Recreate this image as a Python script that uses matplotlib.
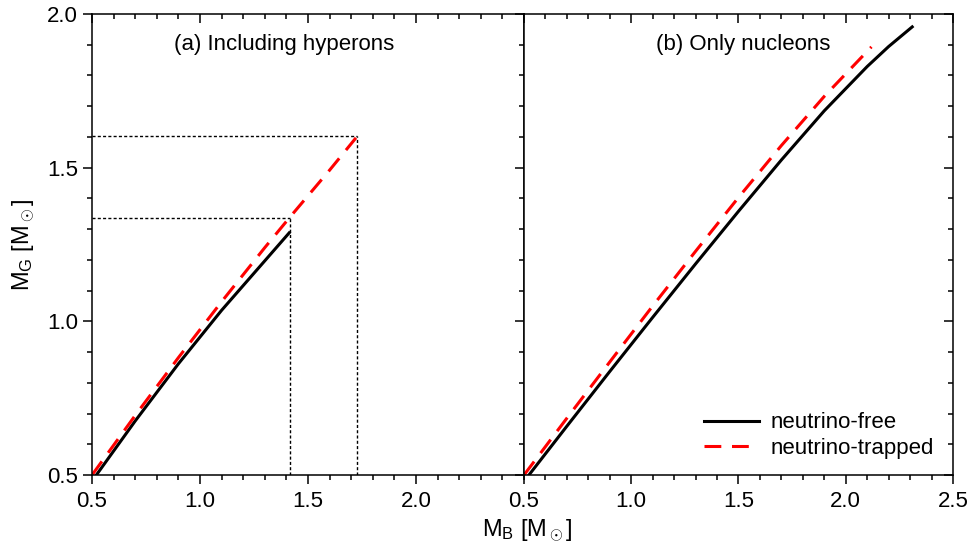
import numpy as np
import matplotlib
matplotlib.use("Agg")
import matplotlib.pyplot as plt
from matplotlib.ticker import MultipleLocator

plt.rcParams['font.family'] = ['Liberation Sans', 'DejaVu Sans']
plt.rcParams['mathtext.fontset'] = 'custom'
plt.rcParams['mathtext.rm'] = 'Liberation Sans'
plt.rcParams['mathtext.it'] = 'Liberation Sans:italic'

# (a) including hyperons
a_free_mb = [0.520, 0.70, 0.90, 1.10, 1.30, 1.413]
a_free_mg = [0.500, 0.676, 0.862, 1.036, 1.197, 1.288]
a_trap_mb = [0.500, 0.70, 0.90, 1.10, 1.30, 1.415, 1.60, 1.722]
a_trap_mg = [0.500, 0.694, 0.882, 1.064, 1.240, 1.338, 1.492, 1.597]

# maximum-mass guide lines in panel (a)
guide_mb = [1.415, 1.727]
guide_mg = [1.335, 1.603]

# (b) only nucleons
b_free_mb = [0.523, 0.70, 0.90, 1.10, 1.30, 1.50, 1.70, 1.90, 2.10, 2.20, 2.31]
b_free_mg = [0.500, 0.659, 0.837, 1.013, 1.187, 1.358, 1.525, 1.685, 1.829, 1.894, 1.958]
b_trap_mb = [0.500, 0.70, 0.90, 1.10, 1.30, 1.50, 1.70, 1.90, 2.12]
b_trap_mg = [0.500, 0.685, 0.868, 1.050, 1.228, 1.403, 1.572, 1.732, 1.893]

panel_titles = ["(a) Including hyperons", "(b) Only nucleons"]
legend_labels = ["neutrino-free", "neutrino-trapped"]

fig = plt.figure(figsize=(9.74, 5.48), dpi=100)
ax1 = fig.add_axes([0.0945, 0.1332, 0.4435, 0.8413])
ax2 = fig.add_axes([0.538, 0.1332, 0.4404, 0.8413])

dash = (0, (5.5, 3.5))
lw = 2.2
dot = (0, (2.2, 1.6))

ax1.plot(a_free_mb, a_free_mg, color='black', lw=lw)
ax1.plot(a_trap_mb, a_trap_mg, color='red', lw=lw, linestyle=dash)
for gx, gy in zip(guide_mb, guide_mg):
    ax1.plot([0.5, gx], [gy, gy], color='black', lw=1.0, linestyle=dot)
    ax1.plot([gx, gx], [0.5, gy], color='black', lw=1.0, linestyle=dot)

ax2.plot(b_free_mb, b_free_mg, color='black', lw=lw, label=legend_labels[0])
ax2.plot(b_trap_mb, b_trap_mg, color='red', lw=lw, linestyle=dash, label=legend_labels[1])

for ax in (ax1, ax2):
    ax.set_xlim(0.5, 2.5)
    ax.set_ylim(0.5, 2.0)
    ax.xaxis.set_minor_locator(MultipleLocator(0.1))
    ax.yaxis.set_major_locator(MultipleLocator(0.5))
    ax.yaxis.set_minor_locator(MultipleLocator(0.1))
    for sp in ax.spines.values():
        sp.set_linewidth(1.1)
    ax.tick_params(which='both', labelsize=16, width=1.1)
    ax.tick_params(which='major', length=6.5)
    ax.tick_params(which='minor', length=3.5)
    ax.tick_params(axis='x', which='both', bottom=True, direction='out', pad=5)
    ax.tick_params(axis='y', which='both', left=True, direction='out', pad=3.5)

ax1.set_xticks([0.5, 1.0, 1.5, 2.0])
ax1.tick_params(which='both', top=True, right=False)
ax2.set_xticks([0.5, 1.0, 1.5, 2.0, 2.5])
ax2.tick_params(which='both', top=True, right=True, labelleft=False)

# top and right ticks point inward
for ax in (ax1, ax2):
    for t in ax.xaxis.get_major_ticks() + ax.xaxis.get_minor_ticks():
        t.tick2line.set_marker(3)
    for t in ax.yaxis.get_major_ticks() + ax.yaxis.get_minor_ticks():
        t.tick2line.set_marker(0)
ax1.set_xticklabels(['0.5', '1.0', '1.5', '2.0'])
ax2.set_xticklabels(['0.5', '1.0', '1.5', '2.0', '2.5'])
ax1.set_yticks([0.5, 1.0, 1.5, 2.0])
ax1.set_yticklabels(['0.5', '1.0', '1.5', '2.0'])

ax1.text(1.39, 1.9, panel_titles[0], fontsize=16, ha='center', va='center')
ax2.text(1.52, 1.9, panel_titles[1], fontsize=16, ha='center', va='center')

ax2.legend(loc='lower right', bbox_to_anchor=(0.955, 0.035), frameon=False,
           fontsize=16, handlelength=2.5, handletextpad=0.5, labelspacing=0.2,
           borderpad=0, borderaxespad=0)

fig.text(0.541, 0.032, r'M$_\mathrm{B}$ [M$_\odot$]', fontsize=17, ha='center', va='center')
fig.text(0.024, 0.554, r'M$_\mathrm{G}$ [M$_\odot$]', fontsize=17, ha='center', va='center',
         rotation=90)

fig.savefig('out.png', dpi=100)
